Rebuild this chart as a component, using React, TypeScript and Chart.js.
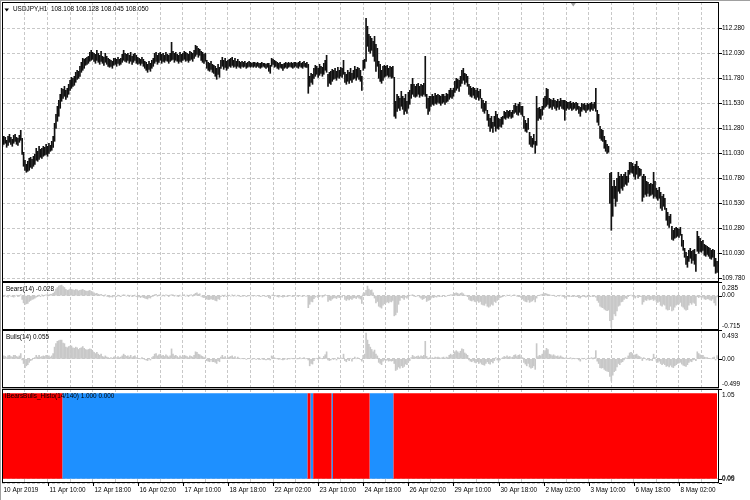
import React, { useEffect, useRef } from 'react';
import { Chart, registerables } from 'chart.js';

Chart.register(...registerables);

// ---------------- data ----------------
const symbolTitle = 'USDJPY,H1  108.108 108.128 108.045 108.050';
const bearsTitle = 'Bears(14) -0.028';
const bullsTitle = 'Bulls(14) 0.055';
const histoTitle = 'iBearsBulls_Histo(14/140) 1.000 0.000';

// time axis labels, one every 32 hourly bars
const timeLabels = [
  '10 Apr 2019', '11 Apr 10:00', '12 Apr 18:00', '16 Apr 02:00', '17 Apr 10:00', '18 Apr 18:00',
  '22 Apr 02:00', '23 Apr 10:00', '24 Apr 18:00', '26 Apr 02:00', '29 Apr 10:00', '30 Apr 18:00',
  '2 May 02:00', '3 May 10:00', '6 May 18:00', '8 May 02:00',
];
const barsPerLabel = 32;
const barsPerGrid = 16;

const priceTicks = [112.28, 112.03, 111.78, 111.53, 111.28, 111.03, 110.78, 110.53, 110.28, 110.03, 109.78];
const priceTickLabels = ['112.280', '112.030', '111.780', '111.530', '111.280', '111.030', '110.780', '110.530', '110.280', '110.030', '109.780'];
const bearsTicks = [0.285, 0, -0.715];
const bearsTickLabels = ['0.285', '0.00', '-0.715'];
const bullsTicks = [0.493, 0, -0.499];
const bullsTickLabels = ['0.493', '0.00', '-0.499'];
const histoTicks = [1.05, -0.05, 0];
const histoTickLabels = ['1.05', '0.05', '0.00'];

const priceLow = [
  111.10, 111.12, 111.13, 111.09, 111.11, 111.14, 111.12, 111.10, 111.13, 111.15,
  111.12, 111.11, 111.14, 111.16, 111.02, 110.90, 110.86, 110.84, 110.85, 110.86,
  110.89, 110.88, 110.90, 110.92, 110.96, 110.95, 110.97, 110.99, 110.98, 111.00,
  111.01, 111.02, 111.00, 111.03, 111.05, 111.06, 111.09, 111.15, 111.28, 111.35,
  111.40, 111.48, 111.55, 111.58, 111.60, 111.57, 111.59, 111.62, 111.66, 111.68,
  111.70, 111.71, 111.74, 111.77, 111.78, 111.80, 111.84, 111.86, 111.88, 111.91,
  111.92, 111.93, 111.95, 111.96, 111.97, 111.95, 111.93, 111.96, 111.94, 111.92,
  111.95, 111.93, 111.91, 111.94, 111.92, 111.90, 111.89, 111.90, 111.88, 111.91,
  111.92, 111.90, 111.93, 111.91, 111.92, 111.94, 111.96, 111.95, 111.94, 111.96,
  111.93, 111.95, 111.92, 111.94, 111.96, 111.93, 111.92, 111.93, 111.91, 111.93,
  111.90, 111.88, 111.86, 111.84, 111.87, 111.85, 111.88, 111.90, 111.93, 111.95,
  111.92, 111.94, 111.96, 111.93, 111.95, 111.94, 111.96, 111.95, 111.93, 111.95,
  111.96, 111.97, 111.94, 111.96, 111.95, 111.93, 111.95, 111.94, 111.96, 111.97,
  111.95, 111.96, 111.94, 111.96, 111.97, 111.95, 111.98, 112.00, 112.02, 111.99,
  112.01, 111.96, 111.94, 111.93, 111.95, 111.88, 111.86, 111.85, 111.87, 111.84,
  111.83, 111.80, 111.77, 111.82, 111.79, 111.88, 111.90, 111.87, 111.89, 111.86,
  111.88, 111.90, 111.89, 111.91, 111.89, 111.90, 111.88, 111.90, 111.89, 111.88,
  111.90, 111.89, 111.90, 111.88, 111.89, 111.90, 111.89, 111.90, 111.89, 111.90,
  111.89, 111.90, 111.89, 111.88, 111.89, 111.90, 111.89, 111.88, 111.89, 111.85,
  111.83, 111.90, 111.92, 111.89, 111.90, 111.88, 111.87, 111.89, 111.88, 111.86,
  111.88, 111.89, 111.88, 111.89, 111.90, 111.89, 111.88, 111.89, 111.90, 111.89,
  111.88, 111.90, 111.89, 111.88, 111.90, 111.89, 111.89, 111.63, 111.70, 111.74,
  111.72, 111.78, 111.80, 111.82, 111.79, 111.81, 111.83, 111.80, 111.82, 111.86,
  111.84, 111.70, 111.73, 111.72, 111.75, 111.77, 111.78, 111.76, 111.79, 111.78,
  111.80, 111.79, 111.82, 111.74, 111.72, 111.75, 111.73, 111.76, 111.74, 111.77,
  111.78, 111.76, 111.79, 111.77, 111.75, 111.66, 111.86, 111.88, 111.95, 112.10,
  112.05, 112.03, 112.06, 112.00, 111.95, 111.85, 111.90, 111.78, 111.75, 111.73,
  111.76, 111.79, 111.80, 111.81, 111.79, 111.80, 111.78, 111.79, 111.40, 111.38,
  111.45, 111.48, 111.46, 111.50, 111.47, 111.42, 111.45, 111.43, 111.48, 111.52,
  111.58, 111.62, 111.60, 111.59, 111.60, 111.62, 111.59, 111.61, 111.60, 111.62,
  111.60, 111.48, 111.42, 111.45, 111.50, 111.52, 111.51, 111.53, 111.52, 111.54,
  111.53, 111.51, 111.53, 111.54, 111.52, 111.54, 111.55, 111.57, 111.59, 111.58,
  111.60, 111.64, 111.66, 111.68, 111.65, 111.70, 111.73, 111.76, 111.72, 111.74,
  111.70, 111.62, 111.60, 111.59, 111.61, 111.58, 111.57, 111.59, 111.56, 111.58,
  111.48, 111.45, 111.43, 111.46, 111.36, 111.30, 111.25, 111.28, 111.24, 111.30,
  111.25, 111.28, 111.27, 111.30, 111.29, 111.32, 111.38, 111.37, 111.39, 111.38,
  111.40, 111.38, 111.39, 111.43, 111.44, 111.42, 111.41, 111.44, 111.42, 111.40,
  111.28, 111.25, 111.24, 111.27, 111.12, 111.10, 111.09, 111.12, 111.03, 111.11,
  111.36, 111.38, 111.37, 111.41, 111.47, 111.49, 111.50, 111.52, 111.48, 111.49,
  111.47, 111.50, 111.48, 111.46, 111.49, 111.47, 111.50, 111.48, 111.47, 111.36,
  111.46, 111.48, 111.47, 111.48, 111.46, 111.47, 111.48, 111.46, 111.47, 111.43,
  111.40, 111.45, 111.47, 111.46, 111.44, 111.46, 111.47, 111.45, 111.47, 111.46,
  111.48, 111.45, 111.34, 111.31, 111.18, 111.16, 111.15, 111.08, 111.05, 111.03,
  111.04, 110.53, 110.26, 110.40, 110.58, 110.50, 110.55, 110.65, 110.63, 110.68,
  110.66, 110.70, 110.72, 110.71, 110.74, 110.82, 110.84, 110.83, 110.80, 110.77,
  110.82, 110.78, 110.80, 110.81, 110.55, 110.59, 110.62, 110.60, 110.63, 110.60,
  110.61, 110.62, 110.58, 110.60, 110.58, 110.56, 110.58, 110.48, 110.46, 110.50,
  110.47, 110.36, 110.31, 110.29, 110.33, 110.17, 110.16, 110.18, 110.19, 110.20,
  110.19, 110.21, 110.10, 110.06, 109.99, 109.92, 109.89, 109.95, 109.98, 109.93,
  109.96, 109.92, 109.85, 110.05, 110.03, 110.05, 110.04, 110.06, 110.01, 110.00,
  110.02, 110.00, 109.98, 109.97, 109.99, 109.90, 109.83, 109.84,
];

const priceHigh = [
  111.17, 111.20, 111.19, 111.16, 111.20, 111.22, 111.19, 111.17, 111.21, 111.22,
  111.19, 111.18, 111.21, 111.26, 111.18, 111.04, 110.96, 110.92, 110.95, 110.98,
  110.99, 110.97, 111.00, 111.02, 111.08, 111.05, 111.10, 111.07, 111.08, 111.10,
  111.09, 111.12, 111.10, 111.13, 111.11, 111.15, 111.20, 111.33, 111.42, 111.50,
  111.56, 111.62, 111.68, 111.67, 111.70, 111.66, 111.68, 111.72, 111.76, 111.79,
  111.78, 111.80, 111.84, 111.86, 111.85, 111.90, 111.94, 111.98, 111.97, 111.98,
  111.99, 112.00, 112.04, 112.06, 112.04, 112.03, 112.02, 112.06, 112.03, 112.01,
  112.05, 112.00, 111.99, 112.03, 112.00, 111.98, 111.97, 111.96, 111.95, 111.98,
  111.98, 111.97, 111.99, 111.97, 111.98, 112.02, 112.06, 112.03, 112.02, 112.03,
  112.01, 112.04, 112.00, 112.02, 112.03, 112.01, 111.99, 111.98, 111.97, 111.99,
  111.97, 111.95, 111.94, 111.92, 111.95, 111.93, 111.96, 111.98, 112.03, 112.04,
  112.01, 112.03, 112.04, 112.02, 112.03, 112.01, 112.04, 112.02, 112.01, 112.03,
  112.14, 112.05, 112.03, 112.04, 112.02, 112.01, 112.04, 112.02, 112.03, 112.05,
  112.04, 112.03, 112.02, 112.05, 112.04, 112.03, 112.06, 112.11, 112.10, 112.08,
  112.07, 112.05, 112.04, 112.02, 112.03, 111.96, 111.94, 111.93, 111.95, 111.92,
  111.91, 111.90, 111.88, 111.92, 111.89, 111.96, 111.99, 111.96, 111.98, 111.95,
  111.96, 111.97, 111.98, 111.99, 111.96, 111.98, 111.95, 111.97, 111.95, 111.94,
  111.95, 111.94, 111.95, 111.93, 111.94, 111.95, 111.94, 111.93, 111.94, 111.94,
  111.93, 111.94, 111.93, 111.93, 111.94, 111.93, 111.93, 111.92, 111.93, 111.93,
  111.91, 111.98, 111.97, 111.96, 111.95, 111.94, 111.93, 111.94, 111.92, 111.92,
  111.93, 111.94, 111.93, 111.94, 111.93, 111.94, 111.93, 111.94, 111.94, 111.93,
  111.94, 111.95, 111.93, 111.94, 111.95, 111.93, 111.94, 111.92, 111.80, 111.83,
  111.82, 111.88, 111.91, 111.90, 111.88, 111.92, 111.90, 111.89, 111.93, 111.96,
  112.01, 111.82, 111.84, 111.85, 111.87, 111.86, 111.88, 111.85, 111.89, 111.86,
  111.89, 111.88, 111.96, 111.84, 111.82, 111.86, 111.84, 111.88, 111.83, 111.86,
  111.90, 111.87, 111.89, 111.88, 111.86, 111.80, 111.96, 111.97, 112.38, 112.30,
  112.22, 112.20, 112.18, 112.15, 112.20, 112.12, 112.08, 111.95, 111.92, 111.86,
  111.90, 111.91, 111.90, 111.91, 111.88, 111.90, 111.89, 111.90, 111.79, 111.55,
  111.62, 111.60, 111.58, 111.65, 111.60, 111.58, 111.62, 111.55, 111.64, 111.66,
  111.72, 111.78, 111.72, 111.70, 111.72, 111.73, 111.70, 111.72, 111.71, 111.73,
  112.00, 111.62, 111.58, 111.60, 111.60, 111.62, 111.60, 111.63, 111.61, 111.62,
  111.61, 111.60, 111.62, 111.62, 111.60, 111.63, 111.62, 111.66, 111.68, 111.66,
  111.68, 111.75, 111.78, 111.77, 111.76, 111.80, 111.86, 111.88, 111.83, 111.82,
  111.80, 111.72, 111.70, 111.68, 111.69, 111.68, 111.66, 111.68, 111.65, 111.67,
  111.58, 111.56, 111.53, 111.55, 111.46, 111.42, 111.38, 111.40, 111.34, 111.40,
  111.45, 111.42, 111.38, 111.37, 111.39, 111.40, 111.45, 111.44, 111.46, 111.45,
  111.46, 111.44, 111.46, 111.51, 111.53, 111.50, 111.52, 111.54, 111.50, 111.50,
  111.40, 111.36, 111.33, 111.38, 111.24, 111.20, 111.18, 111.22, 111.15, 111.60,
  111.48, 111.49, 111.47, 111.50, 111.58, 111.60, 111.68, 111.67, 111.58, 111.57,
  111.56, 111.58, 111.56, 111.55, 111.57, 111.55, 111.58, 111.56, 111.56, 111.56,
  111.55, 111.54, 111.54, 111.55, 111.53, 111.54, 111.53, 111.54, 111.53, 111.50,
  111.49, 111.53, 111.52, 111.53, 111.51, 111.53, 111.52, 111.53, 111.54, 111.52,
  111.54, 111.68, 111.46, 111.42, 111.30, 111.27, 111.26, 111.20, 111.16, 111.12,
  111.10, 110.83, 110.84, 110.70, 110.76, 110.70, 110.78, 110.84, 110.80, 110.82,
  110.80, 110.82, 110.84, 110.80, 110.86, 110.94, 110.94, 110.93, 110.90, 110.92,
  110.95, 110.90, 110.88, 110.87, 110.80, 110.82, 110.80, 110.75, 110.74, 110.72,
  110.73, 110.72, 110.84, 110.75, 110.68, 110.66, 110.69, 110.64, 110.60, 110.62,
  110.58, 110.48, 110.44, 110.40, 110.42, 110.30, 110.26, 110.28, 110.29, 110.28,
  110.27, 110.29, 110.22, 110.16, 110.08, 110.04, 110.00, 110.06, 110.08, 110.05,
  110.06, 110.07, 110.02, 110.25, 110.20, 110.18, 110.15, 110.16, 110.12, 110.11,
  110.10, 110.09, 110.08, 110.06, 110.07, 110.06, 109.98, 109.95,
];

const bearsPower = [
  -0.01, -0.02, 0.01, -0.02, -0.03, 0.01, -0.01, -0.02, -0.03, -0.01,
  0.01, -0.02, -0.01, 0.02, -0.08, -0.15, -0.18, -0.17, -0.16, -0.12,
  -0.10, -0.08, -0.07, -0.05, -0.03, -0.02, 0.01, -0.02, 0.02, -0.01,
  0.01, 0.02, -0.01, 0.02, 0.03, 0.03, 0.05, 0.08, 0.14, 0.17,
  0.20, 0.21, 0.22, 0.19, 0.17, 0.13, 0.11, 0.12, 0.14, 0.13,
  0.12, 0.11, 0.13, 0.12, 0.10, 0.11, 0.12, 0.13, 0.11, 0.10,
  0.09, 0.10, 0.11, 0.09, 0.08, 0.06, 0.04, 0.05, 0.03, 0.02,
  0.03, 0.01, -0.01, 0.02, -0.01, -0.02, -0.03, -0.02, -0.03, -0.01,
  -0.01, -0.02, 0.01, -0.01, -0.02, 0.01, 0.02, 0.01, -0.01, 0.01,
  -0.02, 0.01, -0.02, -0.01, 0.01, -0.02, -0.03, -0.02, -0.04, -0.02,
  -0.04, -0.05, -0.06, -0.07, -0.04, -0.05, -0.02, -0.01, 0.02, 0.03,
  -0.01, 0.01, 0.02, -0.01, 0.01, -0.01, 0.02, 0.01, -0.02, 0.01,
  0.02, 0.02, -0.01, 0.01, -0.01, -0.02, 0.01, -0.01, 0.01, 0.02,
  -0.01, 0.01, -0.02, 0.01, 0.02, -0.01, 0.03, 0.05, 0.06, 0.03,
  0.04, -0.01, -0.03, -0.04, -0.02, -0.07, -0.08, -0.08, -0.06, -0.08,
  -0.08, -0.10, -0.11, -0.06, -0.08, -0.02, 0.01, -0.02, 0.01, -0.02,
  -0.01, 0.01, -0.01, 0.02, -0.01, 0.01, -0.01, 0.01, -0.01, -0.02,
  -0.01, -0.01, 0.00, -0.02, -0.01, 0.00, -0.01, 0.00, -0.01, 0.00,
  -0.01, 0.00, -0.01, -0.02, -0.01, 0.00, -0.01, -0.02, -0.01, -0.04,
  -0.06, 0.01, 0.02, -0.01, 0.00, -0.02, -0.03, -0.01, -0.02, -0.03,
  -0.02, -0.01, -0.02, -0.01, 0.00, -0.01, -0.02, -0.01, 0.00, -0.01,
  -0.02, 0.00, -0.01, -0.02, 0.00, -0.01, -0.01, -0.25, -0.18, -0.12,
  -0.13, -0.06, -0.03, -0.01, -0.04, -0.02, 0.00, -0.03, -0.01, 0.02,
  0.00, -0.12, -0.09, -0.10, -0.07, -0.05, -0.04, -0.06, -0.03, -0.04,
  -0.02, -0.03, 0.00, -0.08, -0.10, -0.07, -0.09, -0.06, -0.08, -0.05,
  -0.04, -0.06, -0.03, -0.05, -0.07, -0.16, 0.04, 0.06, 0.11, 0.20,
  0.14, 0.11, 0.12, 0.06, -0.05, -0.15, -0.12, -0.22, -0.24, -0.26,
  -0.20, -0.17, -0.15, -0.13, -0.15, -0.12, -0.13, -0.10, -0.42, -0.40,
  -0.35, -0.18, -0.10, -0.04, -0.05, -0.08, -0.03, -0.05, -0.02, 0.00,
  0.01, 0.02, -0.01, -0.02, -0.01, 0.00, -0.03, -0.05, -0.08, -0.06,
  -0.04, -0.12, -0.10, -0.09, -0.05, -0.03, -0.04, -0.02, -0.03, -0.01,
  -0.02, -0.01, -0.02, 0.00, -0.02, -0.01, 0.00, 0.01, 0.02, 0.02,
  0.03, 0.05, 0.06, 0.05, 0.03, 0.05, 0.06, 0.04, 0.01, 0.00,
  -0.02, -0.08, -0.10, -0.11, -0.09, -0.12, -0.13, -0.11, -0.14, -0.12,
  -0.18, -0.19, -0.20, -0.16, -0.22, -0.24, -0.22, -0.18, -0.20, -0.12,
  -0.14, -0.10, -0.08, -0.04, -0.03, -0.02, 0.00, -0.01, 0.01, 0.00,
  0.01, -0.01, 0.00, 0.02, 0.01, -0.01, -0.02, -0.02, -0.04, -0.07,
  -0.10, -0.12, -0.13, -0.09, -0.14, -0.12, -0.11, -0.08, -0.13, -0.05,
  0.00, 0.01, 0.02, 0.03, 0.04, 0.05, 0.04, 0.03, 0.02, 0.01,
  0.00, 0.01, -0.01, -0.02, 0.00, -0.01, 0.01, -0.01, -0.02, -0.05,
  -0.02, -0.01, -0.02, -0.01, -0.02, -0.02, -0.01, -0.02, -0.02, -0.04,
  -0.05, -0.02, -0.01, -0.02, -0.03, -0.02, -0.01, -0.02, -0.01, -0.02,
  -0.01, -0.03, -0.10, -0.14, -0.22, -0.24, -0.25, -0.28, -0.30, -0.31,
  -0.30, -0.52, -0.66, -0.50, -0.38, -0.42, -0.32, -0.22, -0.20, -0.13,
  -0.12, -0.08, -0.05, -0.06, -0.02, 0.00, 0.01, -0.01, -0.03, -0.05,
  -0.01, -0.04, -0.02, -0.02, -0.18, -0.13, -0.09, -0.10, -0.07, -0.09,
  -0.08, -0.07, -0.10, -0.08, -0.12, -0.14, -0.12, -0.20, -0.22, -0.18,
  -0.20, -0.28, -0.30, -0.29, -0.22, -0.32, -0.30, -0.24, -0.20, -0.18,
  -0.17, -0.14, -0.22, -0.24, -0.28, -0.30, -0.29, -0.20, -0.15, -0.18,
  -0.14, -0.16, -0.21, -0.02, -0.04, -0.02, -0.05, -0.03, -0.07, -0.08,
  -0.06, -0.07, -0.09, -0.10, -0.07, -0.15, -0.20, -0.028,
];

const bullsPower = [
  0.03, 0.05, 0.04, 0.02, 0.05, 0.06, 0.04, 0.03, 0.06, 0.06,
  0.04, 0.03, 0.05, 0.09, -0.02, -0.08, -0.15, -0.12, -0.10, -0.06,
  -0.03, -0.02, 0.01, 0.02, 0.06, 0.03, 0.06, 0.03, 0.04, 0.05,
  0.04, 0.06, 0.04, 0.05, 0.03, 0.05, 0.09, 0.20, 0.26, 0.30,
  0.31, 0.32, 0.32, 0.27, 0.26, 0.20, 0.19, 0.21, 0.22, 0.22,
  0.19, 0.18, 0.20, 0.19, 0.16, 0.18, 0.19, 0.21, 0.18, 0.16,
  0.15, 0.16, 0.17, 0.16, 0.13, 0.11, 0.09, 0.11, 0.08, 0.06,
  0.08, 0.04, 0.03, 0.05, 0.03, 0.02, 0.01, 0.02, 0.01, 0.03,
  0.04, 0.02, 0.04, 0.02, 0.03, 0.05, 0.08, 0.06, 0.04, 0.05,
  0.03, 0.06, 0.02, 0.04, 0.05, 0.02, 0.01, 0.01, 0.00, 0.02,
  0.00, -0.01, -0.02, -0.03, 0.00, -0.02, 0.02, 0.04, 0.08, 0.09,
  0.05, 0.07, 0.08, 0.05, 0.06, 0.04, 0.07, 0.05, 0.03, 0.05,
  0.17, 0.08, 0.05, 0.06, 0.04, 0.02, 0.05, 0.03, 0.04, 0.06,
  0.05, 0.04, 0.02, 0.05, 0.04, 0.03, 0.06, 0.12, 0.11, 0.08,
  0.07, 0.05, 0.04, 0.02, 0.03, -0.03, -0.04, -0.05, -0.02, -0.05,
  -0.05, -0.06, -0.08, -0.03, -0.05, 0.03, 0.06, 0.02, 0.04, 0.01,
  0.02, 0.03, 0.04, 0.05, 0.02, 0.04, 0.01, 0.03, 0.01, 0.00,
  0.01, 0.00, 0.01, -0.01, 0.00, 0.01, 0.00, -0.01, 0.00, 0.00,
  -0.01, 0.00, -0.01, -0.01, 0.00, -0.01, -0.01, -0.02, -0.01, -0.01,
  -0.02, 0.05, 0.04, 0.02, 0.01, 0.00, -0.01, 0.00, -0.01, -0.02,
  -0.01, 0.00, -0.01, 0.00, 0.00, 0.01, 0.00, 0.00, 0.01, 0.00,
  0.00, 0.02, 0.00, 0.01, 0.02, 0.00, 0.01, -0.02, -0.12, -0.08,
  -0.09, -0.03, 0.00, 0.01, -0.01, 0.03, 0.01, 0.00, 0.04, 0.07,
  0.12, -0.02, -0.03, -0.02, 0.00, -0.01, 0.01, -0.02, 0.02, 0.00,
  0.02, 0.01, 0.08, -0.03, -0.05, -0.01, -0.03, 0.01, -0.04, 0.00,
  0.03, 0.00, 0.02, 0.01, -0.01, -0.04, 0.06, 0.08, 0.44, 0.32,
  0.25, 0.20, 0.16, 0.12, 0.15, 0.08, 0.05, -0.06, -0.08, -0.10,
  -0.04, -0.02, -0.03, -0.02, -0.04, -0.03, -0.04, -0.03, -0.08, -0.20,
  -0.18, -0.14, -0.16, -0.12, -0.15, -0.13, -0.09, -0.10, -0.05, -0.03,
  0.02, 0.06, 0.04, 0.03, 0.04, 0.05, 0.03, 0.05, 0.04, 0.06,
  0.30, 0.04, 0.00, 0.02, 0.01, 0.02, 0.01, 0.03, 0.02, 0.03,
  0.02, 0.01, 0.02, 0.03, 0.01, 0.03, 0.02, 0.06, 0.08, 0.06,
  0.08, 0.12, 0.14, 0.12, 0.10, 0.13, 0.17, 0.16, 0.10, 0.08,
  0.06, -0.02, -0.04, -0.05, -0.03, -0.06, -0.07, -0.05, -0.08, -0.06,
  -0.09, -0.10, -0.11, -0.08, -0.05, -0.08, -0.09, -0.05, -0.07, -0.03,
  0.02, -0.02, -0.04, -0.02, 0.01, 0.02, 0.04, 0.03, 0.05, 0.03,
  0.04, 0.02, 0.03, 0.06, 0.07, 0.04, 0.06, 0.07, 0.03, 0.02,
  -0.06, -0.09, -0.12, -0.08, -0.14, -0.16, -0.15, -0.12, -0.18, 0.26,
  0.04, 0.06, 0.05, 0.08, 0.12, 0.14, 0.18, 0.16, 0.08, 0.07,
  0.05, 0.07, 0.05, 0.04, 0.05, 0.03, 0.05, 0.03, 0.02, 0.01,
  0.02, 0.01, 0.01, 0.02, 0.00, 0.01, 0.00, 0.01, 0.00, -0.02,
  -0.04, 0.01, 0.00, 0.01, -0.01, 0.01, 0.00, 0.01, 0.02, 0.00,
  0.02, 0.14, -0.04, -0.08, -0.15, -0.16, -0.15, -0.18, -0.20, -0.21,
  -0.22, -0.30, -0.38, -0.28, -0.22, -0.20, -0.14, -0.08, -0.10, -0.06,
  -0.05, -0.02, 0.02, 0.01, 0.05, 0.10, 0.11, 0.09, 0.06, 0.07,
  0.08, 0.05, 0.04, 0.02, -0.03, 0.02, 0.01, -0.02, -0.01, -0.03,
  -0.02, -0.03, 0.08, 0.02, -0.04, -0.06, -0.04, -0.08, -0.10, -0.08,
  -0.10, -0.13, -0.12, -0.14, -0.11, -0.14, -0.15, -0.12, -0.10, -0.08,
  -0.07, -0.06, -0.09, -0.11, -0.12, -0.13, -0.10, -0.06, -0.04, -0.05,
  -0.02, -0.01, -0.03, 0.12, 0.09, 0.07, 0.05, 0.06, 0.03, 0.02,
  0.02, 0.01, 0.01, 0.00, 0.02, 0.03, -0.02, 0.055,
];

// histogram state runs: first bar of each run and whether it is the bear (red) state
const histoRunStart = [0, 43, 217, 219, 221, 234, 235, 261, 278];
const histoRunBear = [1, 0, 1, 0, 1, 0, 1, 0, 1];

// ---------------- presentation ----------------
const FONT = '"Liberation Sans", Arial, sans-serif';
const FONT_PX = 6.4;
const X_MIN = -0.3;
const X_MAX = 508.4;
const AXIS_W = 31;
const GRID = '#c8c8c8';
const BEAR_RED = '#ff0000';
const BULL_BLUE = '#1e90ff';
const IND_GRAY = '#c8c8c8';
const PRICE_COLOR = '#111111';

const barCount = priceLow.length;
const histoBear: number[] = [];
for (let i = 0; i < barCount; i++) {
  let k = 0;
  while (k + 1 < histoRunStart.length && histoRunStart[k + 1] <= i) k++;
  histoBear.push(histoRunBear[k]);
}
const gridBars: number[] = [];
for (let b = barsPerGrid; b < barCount; b += barsPerGrid) gridBars.push(b);

type Pane = {
  datasets: any[];
  yMin: number;
  yMax: number;
  yTicks: number[];
  yLabels: string[];
  title: string;
  titleX: number;
  titleY: number;
  xAxisH: number;
  symbol?: boolean;
  timeAxis?: boolean;
};

function decor(p: Pane) {
  return {
    id: 'mtDecor',
    afterDraw(chart: any) {
      const { ctx, chartArea: a } = chart;
      const ys = chart.scales.y;
      const xs = chart.scales.x;
      ctx.save();
      ctx.strokeStyle = '#000';
      ctx.lineWidth = 1;
      ctx.strokeRect(a.left + 0.5, a.top + 0.5, a.right - a.left - 1, a.bottom - a.top - 1);
      ctx.font = `${FONT_PX}px ${FONT}`;
      ctx.fillStyle = '#000';
      ctx.textBaseline = 'middle';
      ctx.textAlign = 'left';
      p.yTicks.forEach((v, k) => {
        const py = ys.getPixelForValue(v);
        const ty = Math.min(Math.max(py, a.top + 6), a.bottom - 4);
        ctx.beginPath();
        ctx.moveTo(a.right, Math.round(py) + 0.5);
        ctx.lineTo(a.right + 3, Math.round(py) + 0.5);
        ctx.stroke();
        ctx.fillText(p.yLabels[k], a.right + 3, ty);
      });
      if (p.symbol) {
        ctx.beginPath();
        ctx.moveTo(4.5, a.top + 6.5);
        ctx.lineTo(9, a.top + 6.5);
        ctx.lineTo(6.75, a.top + 9.5);
        ctx.closePath();
        ctx.fill();
        // chart shift marker
        const sx = xs.getPixelForValue(405);
        ctx.fillStyle = '#a0a0a0';
        ctx.beginPath();
        ctx.moveTo(sx - 2.5, a.top + 1);
        ctx.lineTo(sx + 2.5, a.top + 1);
        ctx.lineTo(sx, a.top + 4.5);
        ctx.closePath();
        ctx.fill();
        ctx.fillStyle = '#000';
      }
      ctx.fillText(p.title, p.titleX, a.top + p.titleY);
      if (p.timeAxis) {
        timeLabels.forEach((lab, k) => {
          const px = Math.round(xs.getPixelForValue(k * barsPerLabel)) + 0.5;
          if (k > 0) {
            ctx.beginPath();
            ctx.moveTo(px, a.bottom);
            ctx.lineTo(px, a.bottom + 3);
            ctx.stroke();
          }
          ctx.fillText(lab, Math.max(px + 1, 3), a.bottom + 7.5);
        });
      }
      ctx.restore();
    },
  };
}

function config(p: Pane): any {
  return {
    type: 'bar',
    data: { datasets: p.datasets },
    options: {
      responsive: false,
      maintainAspectRatio: false,
      animation: false,
      events: [],
      layout: { padding: { left: 2, right: 0, top: 0, bottom: 0 } },
      plugins: { legend: { display: false }, tooltip: { enabled: false } },
      scales: {
        x: {
          type: 'linear',
          min: X_MIN,
          max: X_MAX,
          offset: false,
          position: 'bottom',
          afterBuildTicks: (s: any) => {
            s.ticks = gridBars.map((v) => ({ value: v }));
          },
          afterFit: (s: any) => {
            s.height = p.xAxisH;
          },
          ticks: { display: false },
          grid: { color: GRID, lineWidth: 1, drawTicks: false, offset: false },
          border: { display: false, dash: [3, 2] },
        },
        y: {
          type: 'linear',
          position: 'right',
          min: p.yMin,
          max: p.yMax,
          beginAtZero: false,
          afterBuildTicks: (s: any) => {
            s.ticks = p.yTicks.map((v) => ({ value: v }));
          },
          afterFit: (s: any) => {
            s.width = AXIS_W;
          },
          ticks: { display: false },
          grid: { color: GRID, lineWidth: 1, drawTicks: false },
          border: { display: false, dash: [3, 2] },
        },
      },
    },
    plugins: [decor(p)],
  };
}

const mainPane: Pane = {
  datasets: [
    {
      type: 'bar',
      data: priceLow.map((lo, i) => ({ x: i, y: [lo, priceHigh[i]] })),
      backgroundColor: PRICE_COLOR,
      borderWidth: 0,
      barThickness: 1,
      grouped: false,
    },
  ],
  yMin: 109.743,
  yMax: 112.543,
  yTicks: priceTicks,
  yLabels: priceTickLabels,
  title: symbolTitle,
  titleX: 13,
  titleY: 7.5,
  xAxisH: 0,
  symbol: true,
};

const bearsPane: Pane = {
  datasets: [
    {
      type: 'bar',
      data: bearsPower.map((v, i) => ({ x: i, y: v })),
      backgroundColor: IND_GRAY,
      borderWidth: 0,
      barThickness: 1,
      grouped: false,
    },
  ],
  yMin: -0.715,
  yMax: 0.285,
  yTicks: bearsTicks,
  yLabels: bearsTickLabels,
  title: bearsTitle,
  titleX: 6,
  titleY: 7,
  xAxisH: 0,
};

const bullsPane: Pane = {
  datasets: [
    {
      type: 'bar',
      data: bullsPower.map((v, i) => ({ x: i, y: v })),
      backgroundColor: IND_GRAY,
      borderWidth: 0,
      barThickness: 1,
      grouped: false,
    },
  ],
  yMin: -0.499,
  yMax: 0.493,
  yTicks: bullsTicks,
  yLabels: bullsTickLabels,
  title: bullsTitle,
  titleX: 6,
  titleY: 7.5,
  xAxisH: 0,
};

const histoPane: Pane = {
  datasets: [
    {
      type: 'line',
      data: histoBear.map((b, i) => ({ x: i, y: b })),
      stepped: 'middle',
      fill: 'origin',
      backgroundColor: BEAR_RED,
      borderColor: 'rgba(0,0,0,0)',
      borderWidth: 0,
      pointRadius: 0,
    },
    {
      type: 'line',
      data: histoBear.map((b, i) => ({ x: i, y: 1 - b })),
      stepped: 'middle',
      fill: 'origin',
      backgroundColor: BULL_BLUE,
      borderColor: 'rgba(0,0,0,0)',
      borderWidth: 0,
      pointRadius: 0,
    },
  ],
  yMin: -0.05,
  yMax: 1.05,
  yTicks: histoTicks,
  yLabels: histoTickLabels,
  title: histoTitle,
  titleX: 5,
  titleY: 7,
  xAxisH: 17,
  timeAxis: true,
};

export default function App() {
  const mainRef = useRef<HTMLCanvasElement>(null);
  const bearsRef = useRef<HTMLCanvasElement>(null);
  const bullsRef = useRef<HTMLCanvasElement>(null);
  const histoRef = useRef<HTMLCanvasElement>(null);

  useEffect(() => {
    const charts = [
      new Chart(mainRef.current as HTMLCanvasElement, config(mainPane)),
      new Chart(bearsRef.current as HTMLCanvasElement, config(bearsPane)),
      new Chart(bullsRef.current as HTMLCanvasElement, config(bullsPane)),
      new Chart(histoRef.current as HTMLCanvasElement, config(histoPane)),
    ];
    return () => charts.forEach((c) => c.destroy());
  }, []);

  const abs = (top: number, h: number): React.CSSProperties => ({
    position: 'absolute',
    left: 0,
    top,
    width: 750,
    height: h,
  });

  return (
    <div
      style={{
        position: 'fixed',
        left: 0,
        top: 0,
        width: 750,
        height: 500,
        background: '#ffffff',
        overflow: 'hidden',
      }}
    >
      <div style={{ position: 'absolute', left: 0, top: 0, width: 750, height: 1, background: '#a0a0a0' }} />
      <div style={{ position: 'absolute', left: 0, top: 0, width: 1, height: 500, background: '#a0a0a0' }} />
      <div style={{ position: 'absolute', left: 2, top: 388, width: 717, height: 1, background: '#a8a8a8' }} />
      <canvas ref={mainRef} width={750} height={280} style={abs(2, 280)} />
      <canvas ref={bearsRef} width={750} height={48} style={abs(282, 48)} />
      <canvas ref={bullsRef} width={750} height={58} style={abs(330, 58)} />
      <canvas ref={histoRef} width={750} height={111} style={abs(389, 111)} />
    </div>
  );
}
